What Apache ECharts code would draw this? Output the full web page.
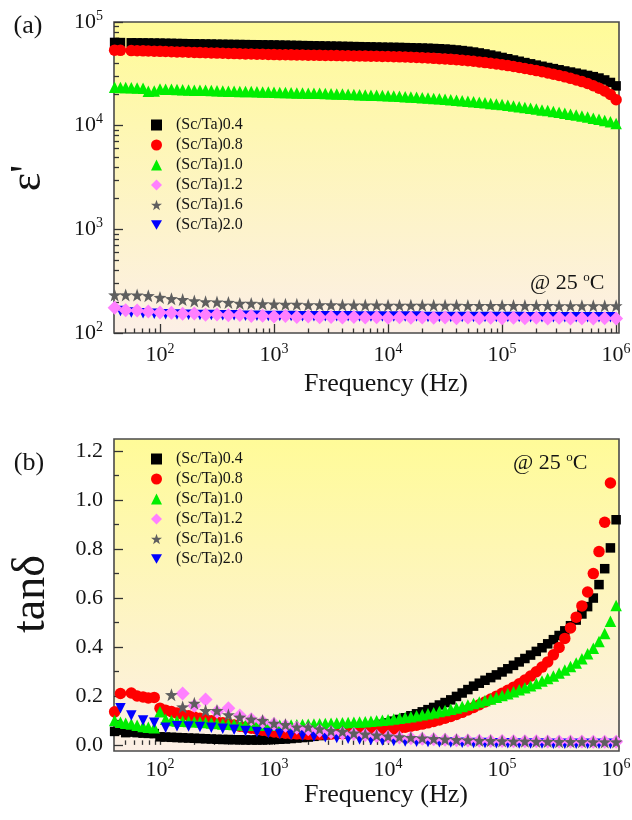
<!DOCTYPE html>
<html>
<head>
<meta charset="utf-8">
<script src="https://cdn.jsdelivr.net/npm/echarts@6/dist/echarts.min.js"></script>
<style>
  html, body { margin: 0; padding: 0; background: #fff; }
  #chart { width: 632px; height: 820px; }
</style>
</head>
<body>
<div id="chart"></div>
<script>
// frequencies (Hz), fine grid ~20 points per decade
const freqFine = [
  40, 45, 50, 56, 63, 71, 79, 89, 100,
  112, 126, 141, 158, 178, 200, 224, 251, 282, 316,
  355, 398, 447, 501, 562, 631, 708, 794, 891, 1000,
  1122, 1259, 1413, 1585, 1778, 1995, 2239, 2512, 2818, 3162,
  3548, 3981, 4467, 5012, 5623, 6310, 7079, 7943, 8913, 10000,
  11220, 12590, 14130, 15850, 17780, 19950, 22390, 25120, 28180, 31620,
  35480, 39810, 44670, 50120, 56230, 63100, 70790, 79430, 89130, 100000,
  112200, 125900, 141300, 158500, 177800, 199500, 223900, 251200, 281800, 316200,
  354800, 398100, 446700, 501200, 562300, 631000, 707900, 794300, 891300, 1000000
]
// coarse grids ~10 points per decade
const freqA = [
  40, 50, 63, 79, 100, 126, 158, 200, 251, 316,
  398, 501, 631, 794, 1000, 1259, 1585, 1995, 2512, 3162,
  3981, 5012, 6310, 7943, 10000, 12590, 15850, 19950, 25120, 31620,
  39810, 50120, 63100, 79430, 100000, 125900, 158500, 199500, 251200, 316200,
  398100, 501200, 631000, 794300, 1000000
]
const freqB = [
  45, 56, 71, 89, 112, 141, 178, 224, 282, 355,
  447, 562, 708, 891, 1122, 1413, 1778, 2239, 2818, 3548,
  4467, 5623, 7079, 8913, 11220, 14130, 17780, 22390, 28180, 35480,
  44670, 56230, 70790, 89130, 112200, 141300, 177800, 223900, 281800, 354800,
  446700, 562300, 707900, 891300
]

const seriesNames = ['(Sc/Ta)0.4', '(Sc/Ta)0.8', '(Sc/Ta)1.0', '(Sc/Ta)1.2', '(Sc/Ta)1.6', '(Sc/Ta)2.0']

// (a) permittivity
const eps04 = [
  63500, 63300, null, 63000, 62900, 62800, 62700, 62600, 62500,
  62300, 62200, 62000, 61900, 61700, 61600, 61400, 61300, 61200, 61000,
  60900, 60800, 60700, 60600, 60500, 60400, 60300, 60200, 60100, 60000,
  59800, 59700, 59500, 59400, 59200, 59100, 58900, 58800, 58600, 58500,
  58400, 58200, 58100, 57900, 57800, 57600, 57500, 57300, 57100, 57000,
  56900, 56800, 56600, 56400, 56200, 56000, 55800, 55500, 55200, 54800,
  54300, 53700, 53000, 52200, 51300, 50300, 49200, 48000, 46800, 45500,
  44200, 43000, 41800, 40600, 39500, 38400, 37400, 36400, 35500, 34600,
  33700, 32900, 32100, 31300, 30500, 29700, 28800, 27600, 26100, 24200
]
const eps08 = [
  53500, 53300, null, 53000, 52800, 52700, 52500, 52300, 52100,
  51900, 51700, 51500, 51300, 51100, 50900, 50700, 50500, 50300, 50100,
  49900, 49700, 49600, 49400, 49200, 49100, 48900, 48800, 48600, 48500,
  48400, 48300, 48200, 48100, 48000, 47900, 47800, 47700, 47600, 47500,
  47400, 47300, 47200, 47100, 47000, 46900, 46800, 46700, 46600, 46500,
  46300, 46100, 45900, 45700, 45500, 45200, 44900, 44600, 44300, 44000,
  43600, 43200, 42800, 42300, 41800, 41200, 40600, 40000, 39400, 38700,
  38000, 37200, 36400, 35600, 34800, 34000, 33200, 32300, 31400, 30500,
  29600, 28600, 27600, 26600, 25500, 24300, 23000, 21600, 20000, 17800
]
const eps10 = [
  23500, 23300, 23400, 23200, 23100, 22900, 21500, 21600, 22600,
  22500, 22400, 22300, 22200, 22100, 22000, 21900, 21900, 21800, 21700,
  21600, 21500, 21500, 21400, 21300, 21300, 21200, 21100, 21100, 21000,
  20900, 20900, 20800, 20700, 20700, 20600, 20500, 20500, 20400, 20300,
  20200, 20200, 20100, 20000, 19900, 19800, 19700, 19600, 19500, 19400,
  19300, 19200, 19000, 18900, 18800, 18600, 18500, 18300, 18200, 18000,
  17800, 17600, 17400, 17200, 17000, 16800, 16600, 16400, 16200, 16000,
  15700, 15500, 15200, 15000, 14700, 14500, 14200, 14000, 13700, 13500,
  13200, 12900, 12700, 12400, 12100, 11800, 11500, 11200, 10900, 10500
]
const eps12 = [
  175, 166, 165, 161, 158, 157, 153, 154, 150, 151,
  148, 149, 146, 147, 144, 146, 143, 144, 142, 143,
  141, 143, 141, 142, 140, 142, 140, 141, 140, 141,
  139, 141, 139, 140, 139, 140, 139, 140, 138, 140,
  138, 139, 138, 139, 138
]
const eps16 = [
  233, 233, 232, 229, 220, 214, 210, 204, 200, 199,
  197, 193, 193, 191, 190, 189, 189, 187, 187, 187,
  186, 186, 186, 186, 185, 185, 185, 185, 185, 185,
  185, 184, 184, 184, 184, 184, 184, 184, 184, 183,
  183, 183, 183, 183, 183
]
const eps20 = [
  163, 158, 155, 153, 152, 151, 150, 149, 149, 148,
  148, 147, 147, 146, 146, 146, 145, 145, 145, 145,
  145, 144, 144, 144, 144, 144, 144, 143, 143, 143,
  143, 143, 143, 143, 143, 143, 142, 142, 142, 142,
  142, 142, 142, 142
]

// (b) loss tangent
const tan04 = [
  0.055, 0.060, 0.050, 0.052, 0.050, 0.048, 0.047, 0.046, 0.033,
  0.032, 0.031, 0.030, 0.029, 0.028, 0.027, 0.026, 0.025, 0.024, 0.023,
  0.022, 0.022, 0.021, 0.021, 0.020, 0.020, 0.020, 0.020, 0.021, 0.022,
  0.023, 0.024, 0.026, 0.028, 0.030, 0.032, 0.035, 0.038, 0.041, 0.045,
  0.048, 0.052, 0.056, 0.060, 0.065, 0.069, 0.074, 0.079, 0.084, 0.090,
  0.097, 0.104, 0.111, 0.119, 0.127, 0.135, 0.144, 0.153, 0.163, 0.173,
  0.184, 0.198, 0.212, 0.226, 0.240, 0.252, 0.264, 0.275, 0.286, 0.298,
  0.311, 0.325, 0.339, 0.353, 0.367, 0.382, 0.397, 0.413, 0.430, 0.447,
  0.466, 0.487, 0.510, 0.535, 0.565, 0.600, 0.655, 0.720, 0.805, 0.920
]
const tan08 = [
  0.135, 0.210, null, 0.212, 0.200, 0.196, 0.192, 0.194, 0.150,
  0.142, 0.136, 0.130, 0.124, 0.119, 0.114, 0.109, 0.104, 0.099, 0.094,
  0.090, 0.085, 0.081, 0.076, 0.072, 0.068, 0.064, 0.060, 0.056, 0.053,
  0.050, 0.048, 0.046, 0.045, 0.044, 0.043, 0.043, 0.043, 0.043, 0.044,
  0.045, 0.046, 0.047, 0.049, 0.050, 0.052, 0.054, 0.056, 0.059, 0.062,
  0.065, 0.068, 0.072, 0.076, 0.080, 0.085, 0.090, 0.096, 0.102, 0.109,
  0.116, 0.124, 0.133, 0.143, 0.153, 0.164, 0.175, 0.187, 0.199, 0.211,
  0.223, 0.236, 0.250, 0.265, 0.281, 0.299, 0.318, 0.339, 0.368, 0.398,
  0.435, 0.478, 0.522, 0.568, 0.625, 0.700, 0.790, 0.910, 1.070, null
]
const tan10 = [
  0.100, 0.092, 0.088, 0.085, 0.080, 0.075, 0.072, 0.070, 0.135,
  0.105, 0.100, 0.098, 0.097, 0.096, 0.095, 0.093, 0.091, 0.089, 0.087,
  0.085, 0.084, 0.083, 0.082, 0.081, 0.080, 0.080, 0.080, 0.080, 0.080,
  0.080, 0.081, 0.081, 0.082, 0.083, 0.084, 0.085, 0.086, 0.087, 0.088,
  0.089, 0.090, 0.091, 0.092, 0.093, 0.095, 0.097, 0.099, 0.101, 0.103,
  0.106, 0.109, 0.112, 0.115, 0.119, 0.123, 0.127, 0.131, 0.136, 0.141,
  0.146, 0.151, 0.157, 0.163, 0.169, 0.175, 0.181, 0.188, 0.195, 0.202,
  0.209, 0.217, 0.225, 0.233, 0.242, 0.251, 0.261, 0.271, 0.282, 0.294,
  0.306, 0.320, 0.335, 0.352, 0.372, 0.395, 0.422, 0.455, 0.505, 0.570
]
const tan12 = [
  null, null, null, null, null, null, 0.210, 0.160, 0.185, 0.135,
  0.150, 0.120, 0.105, 0.095, 0.085, 0.078, 0.070, 0.064, 0.058, 0.052,
  0.048, 0.044, 0.040, 0.036, 0.033, 0.030, 0.027, 0.025, 0.023, 0.021,
  0.019, 0.018, 0.017, 0.016, 0.016, 0.015, 0.015, 0.015, 0.014, 0.014,
  0.014, 0.014, 0.013, 0.013, 0.013
]
const tan16 = [
  null, null, null, null, null, 0.205, 0.155, 0.170, 0.140, 0.140,
  0.123, 0.113, 0.105, 0.100, 0.088, 0.083, 0.073, 0.073, 0.065, 0.058,
  0.055, 0.048, 0.044, 0.040, 0.036, 0.033, 0.030, 0.028, 0.025, 0.023,
  0.021, 0.020, 0.018, 0.017, 0.016, 0.015, 0.015, 0.014, 0.014, 0.013,
  0.013, 0.013, 0.012, 0.012, 0.012
]
const tan20 = [
  0.150, 0.120, 0.100, 0.090, 0.070, 0.076, 0.075, 0.073, 0.070, 0.066,
  0.062, 0.057, 0.053, 0.049, 0.045, 0.041, 0.038, 0.034, 0.031, 0.028,
  0.025, 0.022, 0.020, 0.018, 0.016, 0.014, 0.013, 0.012, 0.011, 0.010,
  0.009, 0.008, 0.008, 0.007, 0.007, 0.006, 0.006, 0.006, 0.005, 0.005,
  0.005, 0.005, 0.005, 0.005
]

// tick positions
const xMajorTicks = [100, 1000, 10000, 100000, 1000000]
const xMinorTicks = [
  50, 60, 70, 80, 90,
  200, 300, 400, 500, 600, 700, 800, 900,
  2000, 3000, 4000, 5000, 6000, 7000, 8000, 9000,
  20000, 30000, 40000, 50000, 60000, 70000, 80000, 90000,
  200000, 300000, 400000, 500000, 600000, 700000, 800000, 900000
]
const epsMajorTicks = [100, 1000, 10000, 100000]
const epsMinorTicks = [
  200, 300, 400, 500, 600, 700, 800, 900,
  2000, 3000, 4000, 5000, 6000, 7000, 8000, 9000,
  20000, 30000, 40000, 50000, 60000, 70000, 80000, 90000
]
const tanMajorTicks = [0, 0.2, 0.4, 0.6, 0.8, 1.0, 1.2]
const tanMinorTicks = [0.1, 0.3, 0.5, 0.7, 0.9, 1.1]

const FONT = 'Liberation Serif'
const INK = '#141414'
const FRAME = '#4a4a4a'
const STAR = 'path://M0,-10 L2.35,-3.24 L9.51,-3.09 L3.8,1.24 L5.88,8.09 L0,4 L-5.88,8.09 L-3.8,1.24 L-9.51,-3.09 L-2.35,-3.24 Z'
const DOWN = 'path://M0,0 L10,0 L5,8.66 Z'

const markers = [
  { symbol: 'rect', size: 9.5, color: '#000000', z: 2 },
  { symbol: 'circle', size: 11.5, color: '#ff0000', z: 3 },
  { symbol: 'triangle', size: 11.5, color: '#00ee00', z: 4 },
  { symbol: 'diamond', size: 14, color: '#ff80ff', z: 6 },
  { symbol: STAR, size: 13, color: '#5f5f5f', z: 7 },
  { symbol: DOWN, size: 10.5, color: '#0000ff', z: 5 },
]

const pairs = (xs, ys) => {
  const out = []
  xs.forEach((x, i) => { if (ys[i] !== null && ys[i] !== undefined) out.push([x, ys[i]]) })
  return out
}

const topSets = [[freqFine, eps04], [freqFine, eps08], [freqFine, eps10], [freqA, eps12], [freqA, eps16], [freqB, eps20]]
const botSets = [[freqFine, tan04], [freqFine, tan08], [freqFine, tan10], [freqA, tan12], [freqA, tan16], [freqB, tan20]]

const makeSeries = (sets, panel) => sets.map((s, i) => ({
  type: 'scatter',
  name: seriesNames[i],
  xAxisIndex: panel * 2,
  yAxisIndex: panel * 2,
  symbol: markers[i].symbol,
  symbolSize: markers[i].size,
  itemStyle: { color: markers[i].color, opacity: 1 },
  z: markers[i].z,
  silent: true,
  data: pairs(s[0], s[1]),
}))

const powRich = {
  n: { fontFamily: FONT, fontSize: 22, color: INK, lineHeight: 26 },
  e: { fontFamily: FONT, fontSize: 14, color: INK, lineHeight: 14, verticalAlign: 'top' },
}
const powLabel = v => '{n|10}{e|' + Math.round(Math.log10(v)) + '}'

const tickLine = { color: '#333', width: 1.3 }

const xAxes = g => [
  {
    type: 'log', gridIndex: g, position: 'bottom', min: 39.5, max: 1060000,
    axisLine: { show: false }, splitLine: { show: false },
    axisTick: { show: true, inside: true, length: 9, customValues: xMajorTicks, lineStyle: tickLine },
    axisLabel: { show: true, customValues: xMajorTicks, formatter: powLabel, rich: powRich, margin: g === 0 ? 9 : 6 },
  },
  {
    type: 'log', gridIndex: g, position: 'bottom', min: 39.5, max: 1060000,
    axisLine: { show: false }, splitLine: { show: false },
    axisTick: { show: true, inside: true, length: 4.5, customValues: xMinorTicks, lineStyle: tickLine },
    axisLabel: { show: false },
  },
]

const yAxes = [
  {
    type: 'log', gridIndex: 0, position: 'left', min: 100, max: 100000,
    axisLine: { show: false }, splitLine: { show: false },
    axisTick: { show: true, inside: true, length: 9, customValues: epsMajorTicks, lineStyle: tickLine },
    axisLabel: { show: true, customValues: epsMajorTicks, formatter: powLabel, rich: powRich, margin: 11 },
  },
  {
    type: 'log', gridIndex: 0, position: 'left', min: 100, max: 100000,
    axisLine: { show: false }, splitLine: { show: false },
    axisTick: { show: true, inside: true, length: 5, customValues: epsMinorTicks, lineStyle: tickLine },
    axisLabel: { show: false },
  },
  {
    type: 'value', gridIndex: 1, position: 'left', min: -0.025, max: 1.25,
    axisLine: { show: false }, splitLine: { show: false },
    axisTick: { show: true, inside: true, length: 9, customValues: tanMajorTicks, lineStyle: tickLine },
    axisLabel: {
      show: true, customValues: tanMajorTicks, formatter: v => v.toFixed(1),
      fontFamily: FONT, fontSize: 22, color: INK, margin: 11,
    },
  },
  {
    type: 'value', gridIndex: 1, position: 'left', min: -0.025, max: 1.25,
    axisLine: { show: false }, splitLine: { show: false },
    axisTick: { show: true, inside: true, length: 5, customValues: tanMinorTicks, lineStyle: tickLine },
    axisLabel: { show: false },
  },
]

const plotBg = {
  type: 'linear', x: 0, y: 0, x2: 0, y2: 1,
  colorStops: [{ offset: 0, color: '#fffb98' }, { offset: 1, color: '#fcefe6' }],
}

const gridBase = {
  left: 114, right: 13, show: true, backgroundColor: plotBg,
  borderColor: FRAME, borderWidth: 1.6, containLabel: false, outerBoundsMode: 'none',
}

const legendBase = {
  orient: 'vertical', left: 151, padding: 0, itemGap: 4, itemWidth: 11, itemHeight: 11,
  selectedMode: false, data: seriesNames,
  textStyle: { fontFamily: FONT, fontSize: 16, color: INK, padding: [0, 0, 0, 9] },
}

const txt = (x, y, text, size, extra) => Object.assign({
  type: 'text', x, y, silent: true,
  style: {
    text, fontFamily: FONT, fontSize: size, fill: INK,
    textAlign: 'center', textVerticalAlign: 'middle', align: 'center', verticalAlign: 'middle',
  },
}, extra || {})

const degRich = {
  o: { fontFamily: FONT, fontSize: 13, lineHeight: 13, verticalAlign: 'top', fill: INK },
}

const chart = echarts.init(document.getElementById('chart'), null, { renderer: 'canvas' })
chart.setOption({
  animation: false,
  backgroundColor: '#ffffff',
  grid: [
    Object.assign({ top: 22, height: 311 }, gridBase),
    Object.assign({ top: 439, height: 312 }, gridBase),
  ],
  xAxis: xAxes(0).concat(xAxes(1)),
  yAxis: yAxes,
  legend: [
    Object.assign({ top: 117 }, legendBase),
    Object.assign({ top: 451 }, legendBase),
  ],
  graphic: [
    txt(28, 26, '(a)', 26),
    txt(29, 463, '(b)', 26),
    txt(386, 384, 'Frequency (Hz)', 26),
    txt(386, 795, 'Frequency (Hz)', 26),
    txt(28, 178, "ε'", 44, { rotation: Math.PI / 2 }),
    txt(32, 594, 'tanδ', 46, { rotation: Math.PI / 2 }),
    {
      type: 'text', x: 530, y: 283, silent: true, z: 20,
      style: {
        text: '@ 25 {o|o}C', rich: degRich, fontFamily: FONT, fontSize: 22, fill: INK,
        textVerticalAlign: 'middle', verticalAlign: 'middle', lineHeight: 24,
      },
    },
    {
      type: 'text', x: 513, y: 463, silent: true, z: 20,
      style: {
        text: '@ 25 {o|o}C', rich: degRich, fontFamily: FONT, fontSize: 22, fill: INK,
        textVerticalAlign: 'middle', verticalAlign: 'middle', lineHeight: 24,
      },
    },
  ],
  series: makeSeries(topSets, 0).concat(makeSeries(botSets, 1)),
})
</script>
</body>
</html>
